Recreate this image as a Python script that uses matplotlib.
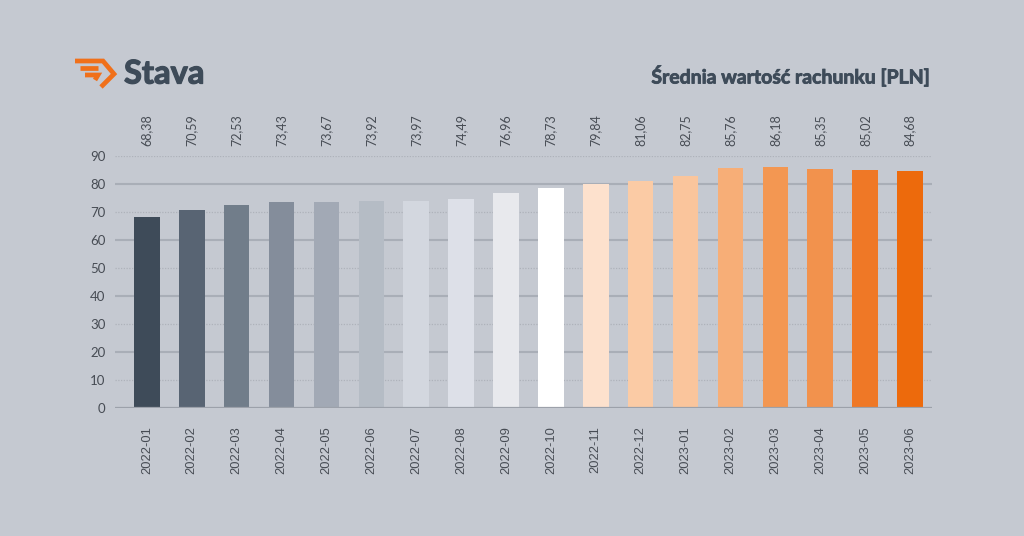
import matplotlib
matplotlib.use("Agg")
import matplotlib.pyplot as plt
import matplotlib.patheffects as pe
from matplotlib.lines import Line2D

# ── Data ───────────────────────────────────────────────────────────────────
months = ["2022-01", "2022-02", "2022-03", "2022-04", "2022-05", "2022-06",
          "2022-07", "2022-08", "2022-09", "2022-10", "2022-11", "2022-12",
          "2023-01", "2023-02", "2023-03", "2023-04", "2023-05", "2023-06"]
values = [68.38, 70.59, 72.53, 73.43, 73.67, 73.92, 73.97, 74.49, 76.96,
          78.73, 79.84, 81.06, 82.75, 85.76, 86.18, 85.35, 85.02, 84.68]
bar_colors = ["#3e4b59", "#586473", "#717d8a", "#848d9b", "#a2a9b5", "#b5bcc5",
              "#d3d7df", "#dde0e8", "#e8e9ed", "#ffffff", "#fde1cd", "#fbcba5",
              "#fac59c", "#f7ae77", "#f39752", "#f2924d", "#ef7826", "#ed6a0c"]
y_ticks = [0, 10, 20, 30, 40, 50, 60, 70, 80, 90]

BG = "#c5c9d1"
DARK = "#3e4b59"
TEXT = "#474c54"
ORANGE = "#f0701a"

fig = plt.figure(figsize=(10.24, 5.36), dpi=100, facecolor=BG)
W, H = 1024, 536
ax = fig.add_axes([115 / W, 1 - 408 / H, (932 - 115) / W, (408 - 156) / H])
ax.set_facecolor(BG)

x = list(range(len(months)))

# ── Grid: solid at 20/40/60/80, dotted at odd tens ─────────────────────────
for t in y_ticks[1:]:
    if t % 20 == 0:
        ax.axhline(t, color="#a9aeb7", lw=1.5, zorder=0)
    else:
        ax.axhline(t, color="#aeb2ba", lw=0.9, ls=(0, (1, 1.2)), zorder=0)
ax.axhline(0, color="#9ca1aa", lw=1.6, zorder=3)

ax.bar(x, values, width=0.57, color=bar_colors, zorder=2)

for xi, v in zip(x, values):
    ax.text(xi, 93.6, f"{v:.2f}".replace(".", ","), rotation=90,
            ha="center", va="bottom", fontsize=9, family="Lato",
            color=TEXT, clip_on=False)

ax.set_xlim(-0.71, 17.49)
ax.set_ylim(0, 90)
ax.set_yticks(y_ticks)
ax.set_yticklabels([str(t) for t in y_ticks], family="Lato", fontsize=9.5, color=TEXT)
ax.set_xticks(x)
ax.set_xticklabels(months, rotation=90, family="Liberation Sans", fontsize=9.3, color=TEXT)
ax.tick_params(axis="x", length=0, pad=13)
ax.tick_params(axis="y", length=0, pad=7)
for s in ax.spines.values():
    s.set_visible(False)

# ── Header: logo + title ──────────────────────────────────────────────────
def px(xp, yp):
    return xp / W, 1 - yp / H

wing = [
    [(75, 61), (103, 61), (114, 74), (101, 87)],
    [(80, 68), (98, 68)],
    [(85, 75), (98, 75), (95, 80)],
]
for seg in wing:
    xs, ys = zip(*[px(a, b) for a, b in seg])
    fig.add_artist(Line2D(xs, ys, color=ORANGE, lw=3.4,
                          solid_capstyle="butt", solid_joinstyle="miter"))

bold = [pe.withStroke(linewidth=0.9, foreground=DARK)]
fig.text(124 / W, 1 - 74 / H, "Stava", family="Lato", weight="bold",
         fontsize=23.5, color=DARK, va="center", ha="left", path_effects=bold)
fig.text(932 / W, 1 - 76 / H, "Średnia wartość rachunku [PLN]", family="Lato",
         weight="bold", fontsize=14, color=DARK, va="center", ha="right",
         path_effects=[pe.withStroke(linewidth=0.6, foreground=DARK)])

fig.savefig("out.png", dpi=100, facecolor=BG)
